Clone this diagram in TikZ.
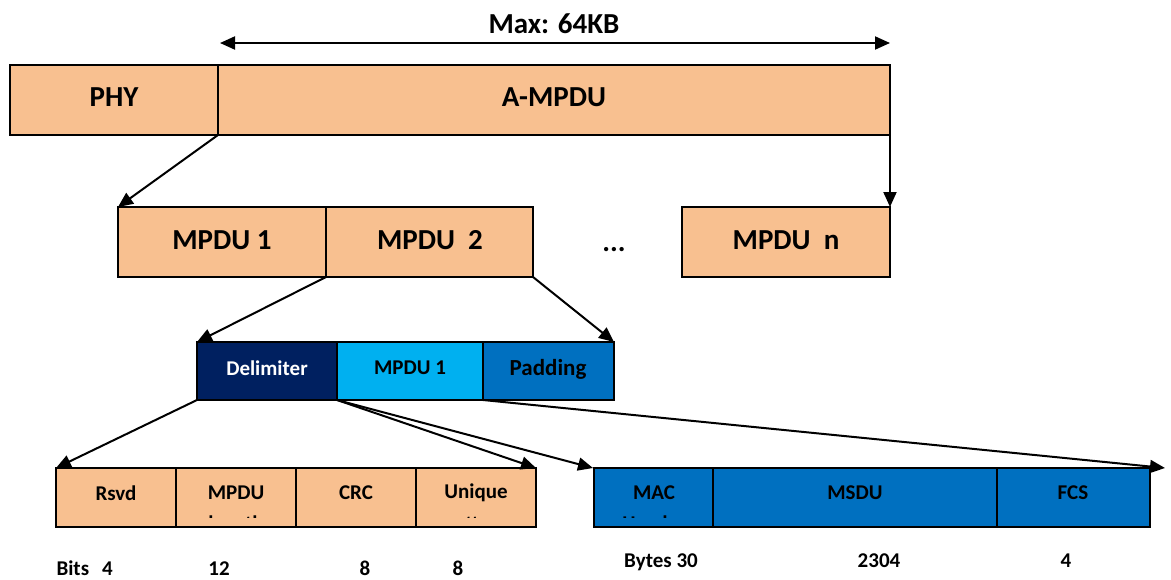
\documentclass[tikz,border=0pt]{standalone}
\usepackage{fontspec}
\setmainfont{Carlito}
\usetikzlibrary{arrows.meta}

\definecolor{peach}{HTML}{F8C090}
\definecolor{navy}{HTML}{002060}
\definecolor{skyblue}{HTML}{00B0F0}
\definecolor{midblue}{HTML}{0070C0}

\tikzset{
  field/.style={draw=black, line width=1.4pt, inner sep=0pt},
  big/.style={font=\bfseries\fontsize{29}{35}\selectfont},
  mid/.style={font=\bfseries\fontsize{21}{26}\selectfont},
  pad/.style={font=\bfseries\fontsize{23}{28}\selectfont},
  small/.style={font=\bfseries\fontsize{21}{26}\selectfont},
  link/.style={line width=2pt, -{Triangle[length=15pt,width=13pt]}},
  span/.style={line width=2pt, {Triangle[length=15pt,width=13pt]}-{Triangle[length=15pt,width=13pt]}},
}

\begin{document}
\begin{tikzpicture}[x=1pt,y=-1pt]
\useasboundingbox (0,0) rectangle (1171,579);

% frame: PHY + A-MPDU
\filldraw[field, fill=peach] (10,65) rectangle (218,135);
\filldraw[field, fill=peach] (218,65) rectangle (890,135);
\node[big] (phy) at (114,97) {PHY};
\node[big] (ampdu) at (554,97) {A-MPDU};
\coordinate (phyR) at (218,135);
\coordinate (ampduR) at (890,135);

% maximum length
\coordinate (maxL) at (220,43);
\coordinate (maxR) at (890,43);
\draw[span] (maxL) -- (maxR);
\node[big] (maxlbl) at (554,24) {Max: 64KB};

% MPDU row
\filldraw[field, fill=peach] (118,207) rectangle (326,277);
\filldraw[field, fill=peach] (326,207) rectangle (533,277);
\filldraw[field, fill=peach] (682,207) rectangle (890,277);
\node[big] (m1) at (222,240) {MPDU 1};
\node[big] (m2) at (430,240) {MPDU\ \ 2};
\node[big] (mn) at (786,240) {MPDU\ \ n};
\node[big] (dots) at (614,250) {...};
\coordinate (m1TL) at (118,207);
\coordinate (mnTR) at (890,207);
\coordinate (m2BL) at (326,277);
\coordinate (m2BR) at (533,277);

\draw[link] (phyR) -- (m1TL);
\draw[link] (ampduR) -- (mnTR);

% delimiter / MPDU / padding
\filldraw[field, fill=navy] (197,342) rectangle (337,400);
\filldraw[field, fill=skyblue] (337,342) rectangle (483,400);
\filldraw[field, fill=midblue] (483,342) rectangle (614,400);
\node[mid, text=white] (delim) at (267,368) {Delimiter};
\node[mid] (sub) at (410,368) {MPDU 1};
\node[pad] (padd) at (548,369) {Padding};
\coordinate (dTL) at (197,342);
\coordinate (pTR) at (614,342);
\coordinate (dBL) at (197,400);
\coordinate (dBR) at (337,400);
\coordinate (pBL) at (483,400);

\draw[link] (m2BL) -- (dTL);
\draw[link] (m2BR) -- (pTR);

% delimiter fields
\filldraw[field, fill=peach] (56,468) rectangle (176,527);
\filldraw[field, fill=peach] (176,468) rectangle (296,527);
\filldraw[field, fill=peach] (296,468) rectangle (416,527);
\filldraw[field, fill=peach] (416,468) rectangle (536,527);
\node[small] (rsvd) at (116,493) {Rsvd};
\node[small] (mlen) at (236,493) {MPDU};
\node[small] (crc) at (356,493) {CRC};
\node[small] (uniq) at (476,493) {Unique};
\begin{scope}
  \clip (56,468) rectangle (536,517.5);
  \node[small, anchor=base] (mlen2) at (236,530.5) {length};
  \node[small, anchor=base] (uniq2) at (476,530.5) {pattern};
\end{scope}
\coordinate (rTL) at (56,468);
\coordinate (uTR) at (536,468);

% MPDU fields
\filldraw[field, fill=midblue] (594,468) rectangle (713,527);
\filldraw[field, fill=midblue] (713,468) rectangle (997,527);
\filldraw[field, fill=midblue] (997,468) rectangle (1150,527);
\node[small] (mac) at (654,493) {MAC};
\node[small] (msdu) at (855,493) {MSDU};
\node[small] (fcs) at (1073,493) {FCS};
\begin{scope}
  \clip (594,468) rectangle (713,517.5);
  \node[small, anchor=base] (mac2) at (654,530.5) {Header};
\end{scope}
\coordinate (macTL) at (593,468);
\coordinate (fcsTR) at (1165,468);

\draw[link] (dBL) -- (rTL);
\draw[link] (dBR) -- (uTR);
\draw[link] (dBR) -- (macTL);
\draw[link] (pBL) -- (fcsTR);

% sizes
\node[small, anchor=base west, inner ysep=0pt] (bits) at (53,575) {Bits\hspace{13pt}4};
\node[small, anchor=base, inner ysep=0pt] (b12) at (219,575) {12};
\node[small, anchor=base, inner ysep=0pt] (b8a) at (365,575) {8};
\node[small, anchor=base, inner ysep=0pt] (b8b) at (458,575) {8};
\node[small, anchor=base] (bytes) at (661,567) {Bytes 30};
\node[small, anchor=base] (b2304) at (879,567) {2304};
\node[small, anchor=base] (b4) at (1066,567) {4};
\end{tikzpicture}
\end{document}
